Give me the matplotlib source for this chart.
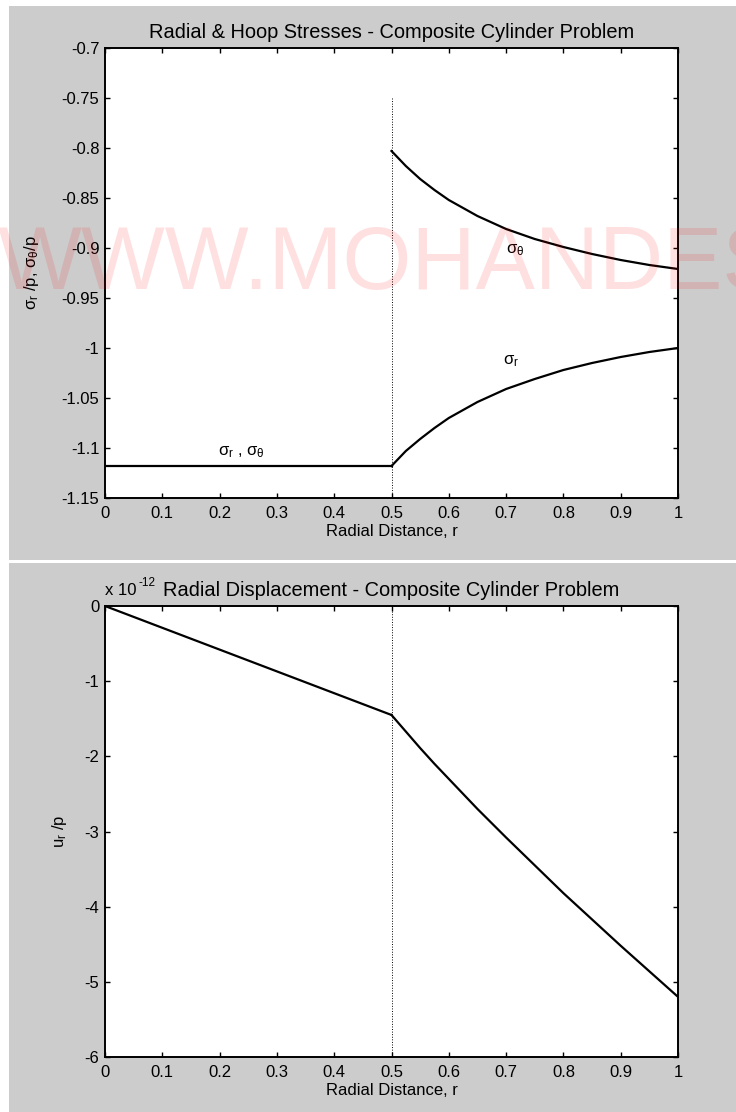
import matplotlib
matplotlib.use('Agg')
import matplotlib.pyplot as plt
from matplotlib.patches import Rectangle

# fonts / matlab look
plt.rcParams['font.family'] = ['Liberation Sans', 'DejaVu Sans']
plt.rcParams['font.size'] = 12
plt.rcParams['mathtext.fontset'] = 'custom'
plt.rcParams['mathtext.rm'] = 'Liberation Sans'
plt.rcParams['mathtext.it'] = 'Liberation Sans'
plt.rcParams['mathtext.bf'] = 'Liberation Sans:bold'
plt.rcParams['axes.unicode_minus'] = False

GREY = '#cccccc'

# data
r_in = [0.0, 0.5]
sig_in = [-1.118, -1.118]                 # sigma_r = sigma_theta inside
r_out = [0.500, 0.525, 0.550, 0.575, 0.600, 0.650, 0.700,
         0.750, 0.800, 0.850, 0.900, 0.950, 1.000]
sig_r_out = [-1.118, -1.103, -1.091, -1.080, -1.070, -1.054, -1.041,
             -1.031, -1.022, -1.015, -1.009, -1.004, -1.000]
sig_t_out = [-0.803, -0.818, -0.831, -0.842, -0.852, -0.868, -0.881,
             -0.891, -0.899, -0.906, -0.912, -0.917, -0.921]

u_r_in = [0.0, 0.25, 0.5]
u_in = [0.0, -0.725, -1.45]               # units of 1e-12
u_out = [-1.45, -1.67, -1.89, -2.10, -2.30, -2.70, -3.08,
         -3.45, -3.82, -4.17, -4.52, -4.86, -5.20]

x_ticks = [0, 0.1, 0.2, 0.3, 0.4, 0.5, 0.6, 0.7, 0.8, 0.9, 1.0]
x_ticklabels = ['0', '0.1', '0.2', '0.3', '0.4', '0.5', '0.6', '0.7', '0.8', '0.9', '1']
y1_ticks = [-0.7, -0.75, -0.8, -0.85, -0.9, -0.95, -1.0, -1.05, -1.1, -1.15]
y1_ticklabels = ['-0.7', '-0.75', '-0.8', '-0.85', '-0.9', '-0.95', '-1', '-1.05', '-1.1', '-1.15']
y2_ticks = [0, -1, -2, -3, -4, -5, -6]
y2_ticklabels = ['0', '-1', '-2', '-3', '-4', '-5', '-6']

fig = plt.figure(figsize=(7.36, 11.12), dpi=100, facecolor='white')

# grey matlab panels
W, H = 736.0, 1112.0
fig.add_artist(Rectangle((9 / W, 1 - 560 / H), 1 - 9 / W, (560 - 6) / H,
                         transform=fig.transFigure, facecolor=GREY, edgecolor='none', zorder=-5))
fig.add_artist(Rectangle((9 / W, 0), 1 - 9 / W, 1 - 563 / H,
                         transform=fig.transFigure, facecolor=GREY, edgecolor='none', zorder=-5))

ax1 = fig.add_axes([105 / W, 1 - 498 / H, 573 / W, 450 / H])
ax2 = fig.add_axes([105 / W, 1 - 1057 / H, 573 / W, 451 / H])


def style(ax):
    ax.set_facecolor('white')
    for s in ax.spines.values():
        s.set_linewidth(1.4)
    ax.tick_params(direction='in', top=True, right=True, length=3.6, width=1.0)
    ax.tick_params(axis='x', pad=6)
    ax.tick_params(axis='y', pad=4)
    ax.set_xlim(0, 1)
    ax.set_xticks(x_ticks)
    ax.set_xticklabels(x_ticklabels)
    ax.set_xlabel('Radial Distance, r')
    ax.xaxis.set_label_coords(0.5, -0.058)


# top: stresses
ax1.plot(r_in, sig_in, color='black', lw=1.6)
ax1.plot(r_out, sig_r_out, color='black', lw=1.6)
ax1.plot(r_out, sig_t_out, color='black', lw=1.6)
ax1.plot([0.5, 0.5], [-0.75, -1.15], color='black', lw=0.7, ls=':')
ax1.set_ylim(-1.15, -0.7)
ax1.set_yticks(y1_ticks)
ax1.set_yticklabels(y1_ticklabels)
style(ax1)
ax1.set_title('Radial & Hoop Stresses - Composite Cylinder Problem', pad=7)
ax1.set_ylabel(r'$\sigma_r$ /p, $\sigma_\theta$/p')
ax1.yaxis.set_label_coords(-0.112, 0.5)
ax1.text(0.70, -0.902, r'$\sigma_\theta$', ha='left', va='center')
ax1.text(0.695, -1.013, r'$\sigma_r$', ha='left', va='center')
ax1.text(0.197, -1.107, r'$\sigma_r$ , $\sigma_\theta$', ha='left', va='baseline')

# bottom: displacement
ax2.plot(u_r_in, u_in, color='black', lw=1.6)
ax2.plot(r_out, u_out, color='black', lw=1.6)
ax2.plot([0.5, 0.5], [0, -6], color='black', lw=0.7, ls=':')
ax2.set_ylim(-6, 0)
ax2.set_yticks(y2_ticks)
ax2.set_yticklabels(y2_ticklabels)
style(ax2)
ax2.set_title('Radial Displacement - Composite Cylinder Problem', pad=7)
ax2.set_ylabel(r'u$_r$ /p')
ax2.yaxis.set_label_coords(-0.063, 0.5)
ax2.annotate('x 10', xy=(0.0, 1.0), xycoords='axes fraction', xytext=(0, 6),
             textcoords='offset points', ha='left', va='bottom')
ax2.annotate('-12', xy=(0.0, 1.0), xycoords='axes fraction', xytext=(24, 12),
             textcoords='offset points', ha='left', va='bottom', fontsize=8.5)

# watermark
fig.text(-2 / W, 1 - 289 / H, 'WWW.MOHANDES', fontsize=64, color='red', alpha=0.12,
         ha='left', va='baseline', zorder=10)

fig.savefig('out.png', dpi=100, facecolor='white')
